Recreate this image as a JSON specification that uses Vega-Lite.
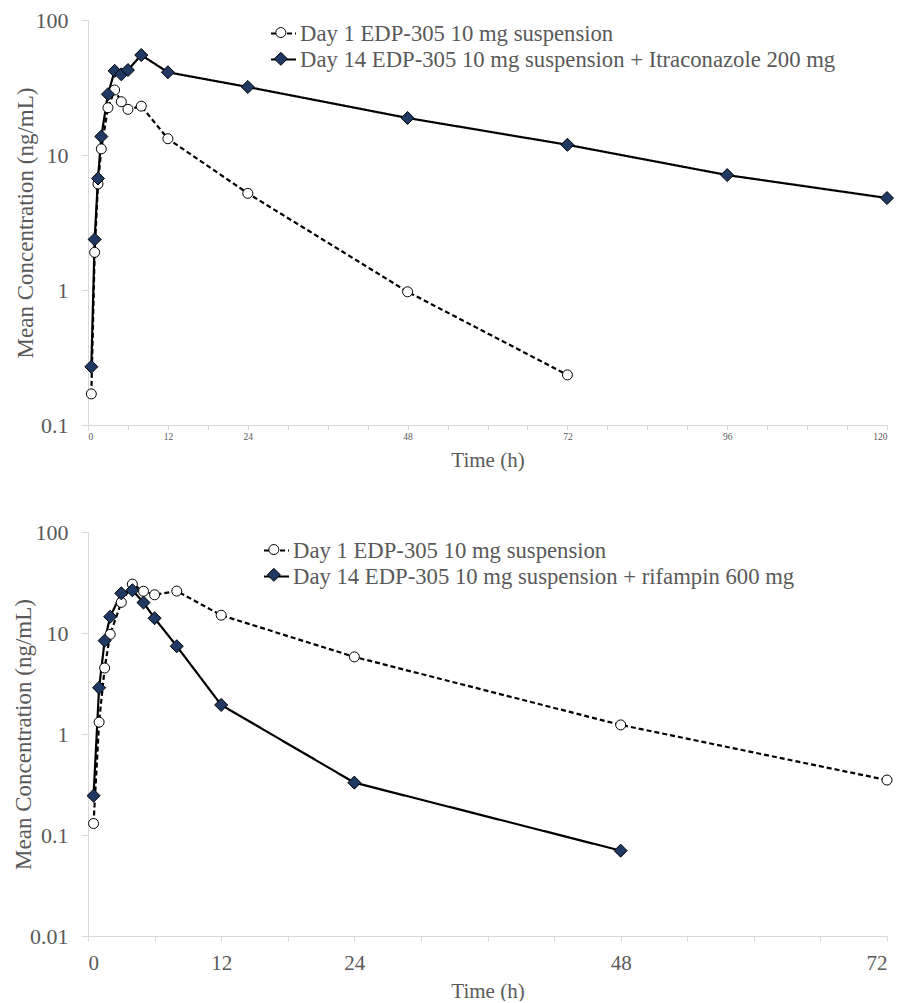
{
  "$schema": "https://vega.github.io/schema/vega-lite/v6.json",
  "padding": {"left": 12, "top": 9, "right": 0, "bottom": 0},
  "background": "white",
  "spacing": 50,
  "config": {
    "view": {"stroke": null},
    "font": "Liberation Serif",
    "axis": {
      "labelFont": "Liberation Serif",
      "titleFont": "Liberation Serif",
      "labelColor": "#595959",
      "titleColor": "#595959",
      "titleFontWeight": "normal",
      "domainColor": "#d9d9d9",
      "tickColor": "#d9d9d9",
      "grid": false
    },
    "legend": {
      "labelFont": "Liberation Serif",
      "labelFontSize": 22.7,
      "labelColor": "#595959",
      "labelLimit": 0
    }
  },
  "datasets": {
    "itra": [
      {"time": 0.5, "conc": 0.17, "series": "Day 1 EDP-305 10 mg suspension"},
      {"time": 1, "conc": 1.9, "series": "Day 1 EDP-305 10 mg suspension"},
      {"time": 1.5, "conc": 6.1, "series": "Day 1 EDP-305 10 mg suspension"},
      {"time": 2, "conc": 11.1, "series": "Day 1 EDP-305 10 mg suspension"},
      {"time": 3, "conc": 22.4, "series": "Day 1 EDP-305 10 mg suspension"},
      {"time": 4, "conc": 30.3, "series": "Day 1 EDP-305 10 mg suspension"},
      {"time": 5, "conc": 24.8, "series": "Day 1 EDP-305 10 mg suspension"},
      {"time": 6, "conc": 21.8, "series": "Day 1 EDP-305 10 mg suspension"},
      {"time": 8, "conc": 23, "series": "Day 1 EDP-305 10 mg suspension"},
      {"time": 12, "conc": 13.2, "series": "Day 1 EDP-305 10 mg suspension"},
      {"time": 24, "conc": 5.2, "series": "Day 1 EDP-305 10 mg suspension"},
      {"time": 48, "conc": 0.97, "series": "Day 1 EDP-305 10 mg suspension"},
      {"time": 72, "conc": 0.235, "series": "Day 1 EDP-305 10 mg suspension"},
      {"time": 0.5, "conc": 0.27, "series": "Day 14 EDP-305 10 mg suspension + Itraconazole 200 mg"},
      {"time": 1, "conc": 2.37, "series": "Day 14 EDP-305 10 mg suspension + Itraconazole 200 mg"},
      {"time": 1.5, "conc": 6.7, "series": "Day 14 EDP-305 10 mg suspension + Itraconazole 200 mg"},
      {"time": 2, "conc": 13.7, "series": "Day 14 EDP-305 10 mg suspension + Itraconazole 200 mg"},
      {"time": 3, "conc": 28.2, "series": "Day 14 EDP-305 10 mg suspension + Itraconazole 200 mg"},
      {"time": 4, "conc": 42, "series": "Day 14 EDP-305 10 mg suspension + Itraconazole 200 mg"},
      {"time": 5, "conc": 39.6, "series": "Day 14 EDP-305 10 mg suspension + Itraconazole 200 mg"},
      {"time": 6, "conc": 42.6, "series": "Day 14 EDP-305 10 mg suspension + Itraconazole 200 mg"},
      {"time": 8, "conc": 55, "series": "Day 14 EDP-305 10 mg suspension + Itraconazole 200 mg"},
      {"time": 12, "conc": 41, "series": "Day 14 EDP-305 10 mg suspension + Itraconazole 200 mg"},
      {"time": 24, "conc": 31.9, "series": "Day 14 EDP-305 10 mg suspension + Itraconazole 200 mg"},
      {"time": 48, "conc": 18.8, "series": "Day 14 EDP-305 10 mg suspension + Itraconazole 200 mg"},
      {"time": 72, "conc": 11.9, "series": "Day 14 EDP-305 10 mg suspension + Itraconazole 200 mg"},
      {"time": 96, "conc": 7.1, "series": "Day 14 EDP-305 10 mg suspension + Itraconazole 200 mg"},
      {"time": 120, "conc": 4.8, "series": "Day 14 EDP-305 10 mg suspension + Itraconazole 200 mg"}
    ],
    "rif": [
      {"time": 0.5, "conc": 0.13, "series": "Day 1 EDP-305 10 mg suspension"},
      {"time": 1, "conc": 1.31, "series": "Day 1 EDP-305 10 mg suspension"},
      {"time": 1.5, "conc": 4.5, "series": "Day 1 EDP-305 10 mg suspension"},
      {"time": 2, "conc": 9.7, "series": "Day 1 EDP-305 10 mg suspension"},
      {"time": 3, "conc": 20.1, "series": "Day 1 EDP-305 10 mg suspension"},
      {"time": 4, "conc": 30.5, "series": "Day 1 EDP-305 10 mg suspension"},
      {"time": 5, "conc": 25.9, "series": "Day 1 EDP-305 10 mg suspension"},
      {"time": 6, "conc": 23.9, "series": "Day 1 EDP-305 10 mg suspension"},
      {"time": 8, "conc": 26, "series": "Day 1 EDP-305 10 mg suspension"},
      {"time": 12, "conc": 15, "series": "Day 1 EDP-305 10 mg suspension"},
      {"time": 24, "conc": 5.8, "series": "Day 1 EDP-305 10 mg suspension"},
      {"time": 48, "conc": 1.23, "series": "Day 1 EDP-305 10 mg suspension"},
      {"time": 72, "conc": 0.35, "series": "Day 1 EDP-305 10 mg suspension"},
      {"time": 0.5, "conc": 0.245, "series": "Day 14 EDP-305 10 mg suspension + rifampin 600 mg"},
      {"time": 1, "conc": 2.87, "series": "Day 14 EDP-305 10 mg suspension + rifampin 600 mg"},
      {"time": 1.5, "conc": 8.4, "series": "Day 14 EDP-305 10 mg suspension + rifampin 600 mg"},
      {"time": 2, "conc": 14.5, "series": "Day 14 EDP-305 10 mg suspension + rifampin 600 mg"},
      {"time": 3, "conc": 24.7, "series": "Day 14 EDP-305 10 mg suspension + rifampin 600 mg"},
      {"time": 4, "conc": 26.5, "series": "Day 14 EDP-305 10 mg suspension + rifampin 600 mg"},
      {"time": 5, "conc": 20, "series": "Day 14 EDP-305 10 mg suspension + rifampin 600 mg"},
      {"time": 6, "conc": 14, "series": "Day 14 EDP-305 10 mg suspension + rifampin 600 mg"},
      {"time": 8, "conc": 7.4, "series": "Day 14 EDP-305 10 mg suspension + rifampin 600 mg"},
      {"time": 12, "conc": 1.94, "series": "Day 14 EDP-305 10 mg suspension + rifampin 600 mg"},
      {"time": 24, "conc": 0.33, "series": "Day 14 EDP-305 10 mg suspension + rifampin 600 mg"},
      {"time": 48, "conc": 0.07, "series": "Day 14 EDP-305 10 mg suspension + rifampin 600 mg"}
    ]
  },
  "resolve": {
    "scale": {"x": "independent", "y": "independent", "strokeDash": "independent", "shape": "independent", "fill": "independent", "size": "independent"},
    "legend": {"strokeDash": "independent", "shape": "independent", "fill": "independent", "size": "independent"}
  },
  "vconcat": [
    {
      "width": 799,
      "height": 405,
      "data": {"name": "itra"},
      "encoding": {
        "x": {
          "field": "time", "type": "quantitative",
          "scale": {"domain": [0, 120], "nice": false, "zero": false},
          "axis": {
            "title": "Time (h)",
            "titleFontSize": 21,
            "values": [0, 6, 12, 18, 24, 30, 36, 42, 48, 54, 60, 66, 72, 78, 84, 90, 96, 102, 108, 114, 120],
            "labelExpr": "indexof([0, 12, 24, 48, 72, 96, 120], datum.value) >= 0 ? datum.label : ''",
            "labelFontSize": 9.5,
            "tickSize": 5,
            "labelPadding": 1,
            "titlePadding": 9,
            "labelOverlap": false
          }
        },
        "y": {
          "field": "conc", "type": "quantitative",
          "scale": {"type": "log", "domain": [0.1, 100], "nice": false},
          "axis": {
            "title": "Mean Concentration (ng/mL)",
            "titleFontSize": 23,
            "values": [0.1, 1, 10, 100],
            "format": "~g",
            "labelFontSize": 22,
            "tickSize": 7,
            "labelPadding": 13,
            "titlePadding": -2
          }
        }
      },
      "layer": [
        {
          "mark": {"type": "line", "color": "black", "strokeWidth": 2.2},
          "encoding": {
            "strokeDash": {
              "field": "series", "type": "nominal",
              "scale": {"range": [[5, 3], [1, 0]]},
              "legend": {
                "title": null,
                "orient": "none",
                "legendX": 182,
                "legendY": 0,
                "symbolType": "stroke",
                "symbolSize": 625,
                "symbolStrokeWidth": 1.8,
                "symbolStrokeColor": "black",
                "labelOffset": 3,
                "rowPadding": 0
              }
            }
          }
        },
        {
          "mark": {"type": "point", "filled": true, "stroke": "black", "strokeWidth": 1, "opacity": 1},
          "encoding": {
            "shape": {
              "field": "series", "type": "nominal",
              "scale": {"domain": ["Day 1 EDP-305 10 mg suspension", "Day 14 EDP-305 10 mg suspension + Itraconazole 200 mg"], "range": ["circle", "diamond"]},
              "legend": {
                "title": null,
                "orient": "none",
                "legendX": 181.5,
                "legendY": 1.2,
                "labelExpr": "''",
                "labelOpacity": 0,
                "labelOffset": 3,
                "rowPadding": 2.3,
                "symbolStrokeColor": "black",
                "symbolStrokeWidth": 1
              }
            },
            "fill": {
              "field": "series", "type": "nominal",
              "scale": {"domain": ["Day 1 EDP-305 10 mg suspension", "Day 14 EDP-305 10 mg suspension + Itraconazole 200 mg"], "range": ["#ffffff", "#1F3864"]}
            },
            "size": {
              "field": "series", "type": "nominal",
              "scale": {"domain": ["Day 1 EDP-305 10 mg suspension", "Day 14 EDP-305 10 mg suspension + Itraconazole 200 mg"], "range": [100, 170]}
            }
          }
        }
      ]
    },
    {
      "width": 799,
      "height": 404,
      "data": {"name": "rif"},
      "encoding": {
        "x": {
          "field": "time", "type": "quantitative",
          "scale": {"domain": [0, 72], "nice": false, "zero": false},
          "axis": {
            "title": "Time (h)",
            "titleFontSize": 21,
            "values": [0, 6, 12, 18, 24, 30, 36, 42, 48, 54, 60, 66, 72],
            "labelExpr": "indexof([0, 12, 24, 48, 72], datum.value) >= 0 ? datum.label : ''",
            "labelFontSize": 21,
            "tickSize": 5,
            "labelPadding": 11,
            "titlePadding": 7,
            "labelOverlap": false
          }
        },
        "y": {
          "field": "conc", "type": "quantitative",
          "scale": {"type": "log", "domain": [0.01, 100], "nice": false},
          "axis": {
            "title": "Mean Concentration (ng/mL)",
            "titleFontSize": 23,
            "values": [0.01, 0.1, 1, 10, 100],
            "format": "~g",
            "labelFontSize": 22,
            "tickSize": 7,
            "labelPadding": 13,
            "titlePadding": -6
          }
        }
      },
      "layer": [
        {
          "mark": {"type": "line", "color": "black", "strokeWidth": 2.2},
          "encoding": {
            "strokeDash": {
              "field": "series", "type": "nominal",
              "scale": {"range": [[5, 3], [1, 0]]},
              "legend": {
                "title": null,
                "orient": "none",
                "legendX": 175,
                "legendY": 5,
                "symbolType": "stroke",
                "symbolSize": 625,
                "symbolStrokeWidth": 1.8,
                "symbolStrokeColor": "black",
                "labelOffset": 3,
                "rowPadding": -1
              }
            }
          }
        },
        {
          "mark": {"type": "point", "filled": true, "stroke": "black", "strokeWidth": 1, "opacity": 1},
          "encoding": {
            "shape": {
              "field": "series", "type": "nominal",
              "scale": {"domain": ["Day 1 EDP-305 10 mg suspension", "Day 14 EDP-305 10 mg suspension + rifampin 600 mg"], "range": ["circle", "diamond"]},
              "legend": {
                "title": null,
                "orient": "none",
                "legendX": 174.5,
                "legendY": 6.2,
                "labelExpr": "''",
                "labelOpacity": 0,
                "labelOffset": 3,
                "rowPadding": 1.3,
                "symbolStrokeColor": "black",
                "symbolStrokeWidth": 1
              }
            },
            "fill": {
              "field": "series", "type": "nominal",
              "scale": {"domain": ["Day 1 EDP-305 10 mg suspension", "Day 14 EDP-305 10 mg suspension + rifampin 600 mg"], "range": ["#ffffff", "#1F3864"]}
            },
            "size": {
              "field": "series", "type": "nominal",
              "scale": {"domain": ["Day 1 EDP-305 10 mg suspension", "Day 14 EDP-305 10 mg suspension + rifampin 600 mg"], "range": [100, 170]}
            }
          }
        }
      ]
    }
  ]
}
